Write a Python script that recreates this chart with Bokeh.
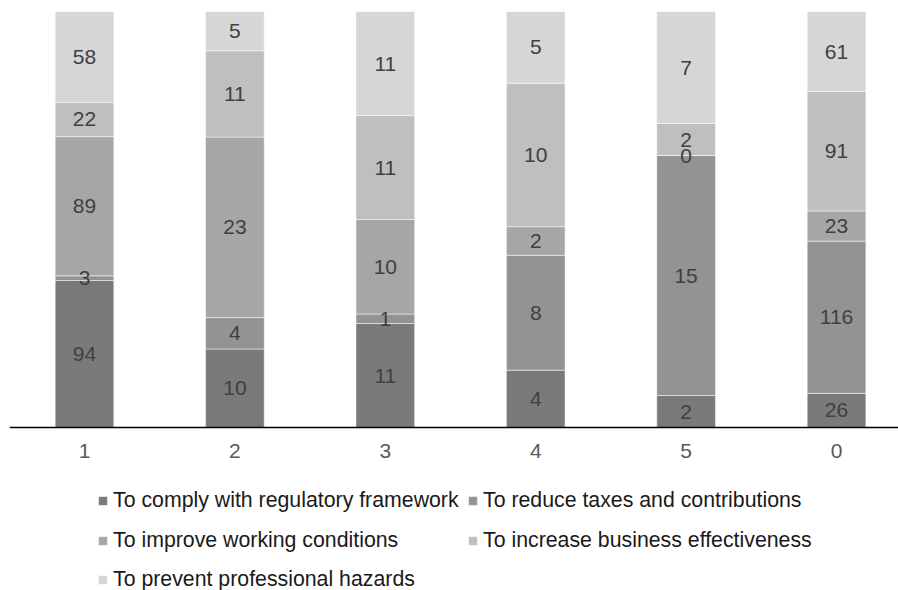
import numpy as np
from bokeh.plotting import figure
from bokeh.core.properties import value
from bokeh.models import (ColumnDataSource, Range1d, FixedTicker, LabelSet,
                          Legend, LegendItem)
from bokeh.embed import file_html
from bokeh.resources import INLINE

categories = ["1", "2", "3", "4", "5", "0"]
series_names = ["To comply with regulatory framework",
                "To reduce taxes and contributions",
                "To improve working conditions",
                "To increase business effectiveness",
                "To prevent professional hazards"]
comply = [94, 10, 11, 4, 2, 26]
taxes = [3, 4, 1, 8, 15, 116]
working = [89, 23, 10, 2, 0, 23]
effectiveness = [22, 11, 11, 10, 2, 91]
hazards = [58, 5, 11, 5, 7, 61]
colors = ["#7a7a7a", "#939393", "#a6a6a6", "#bfbfbf", "#d6d6d6"]

values = np.array([comply, taxes, working, effectiveness, hazards], dtype=float)
totals = values.sum(axis=0)
fracs = values / totals
cum = np.cumsum(fracs, axis=0)
bottoms = cum - fracs
xs = np.arange(len(categories))

FONT = "Liberation Sans"

# frame covers the canvas below the top border; y = 0 sits at the axis line
p = figure(width=898, height=590, output_backend="svg", toolbar_location=None,
           x_range=Range1d(-0.4987, 5.412), y_range=Range1d(-0.3918, 1),
           min_border_left=9, min_border_right=0, min_border_top=11,
           min_border_bottom=0)
p.outline_line_color = None
p.xgrid.visible = False
p.ygrid.visible = False
p.yaxis.visible = False

items = []
for k, name in enumerate(series_names):
    src = ColumnDataSource(dict(x=xs, top=cum[k], bottom=bottoms[k],
                                mid=(cum[k] + bottoms[k]) / 2,
                                txt=[str(int(v)) for v in values[k]]))
    r = p.vbar(x="x", top="top", bottom="bottom", width=0.39, source=src,
               fill_color=colors[k], line_color="white", line_width=0.8,
               line_alpha=0.6)
    items.append(LegendItem(label=name, renderers=[r]))
    lab = LabelSet(x="x", y="mid", text="txt", source=src, text_align="center",
                   text_baseline="middle", text_font=value(FONT),
                   text_font_size=value("21px"), text_color="#404040")
    p.add_layout(lab)

ax = p.xaxis[0]
ax.fixed_location = 0
ax.ticker = FixedTicker(ticks=list(xs))
ax.major_label_overrides = {int(i): c for i, c in zip(xs, categories)}
ax.major_tick_line_color = None
ax.minor_tick_line_color = None
ax.axis_line_color = "#000000"
ax.axis_line_width = 1.5
ax.major_label_text_font = FONT
ax.major_label_text_font_size = "21px"
ax.major_label_text_color = "#595959"
ax.major_label_standoff = 10

common = dict(label_text_font=FONT, label_text_font_size="21.3px",
              label_text_color="#1a1a1a", glyph_width=11, glyph_height=11,
              label_standoff=5, padding=0, margin=0, border_line_color=None,
              background_fill_alpha=0)

legend_a = Legend(items=items[:4], ncols=2, nrows=2, orientation="horizontal",
                  location=(88, 33), label_height=34, label_width=348,
                  spacing=6, **common)
legend_b = Legend(items=items[4:], location=(88, -2), label_height=20,
                  spacing=0, **common)
p.add_layout(legend_a)
p.add_layout(legend_b)

open("out.html", "w").write(file_html(p, INLINE))
